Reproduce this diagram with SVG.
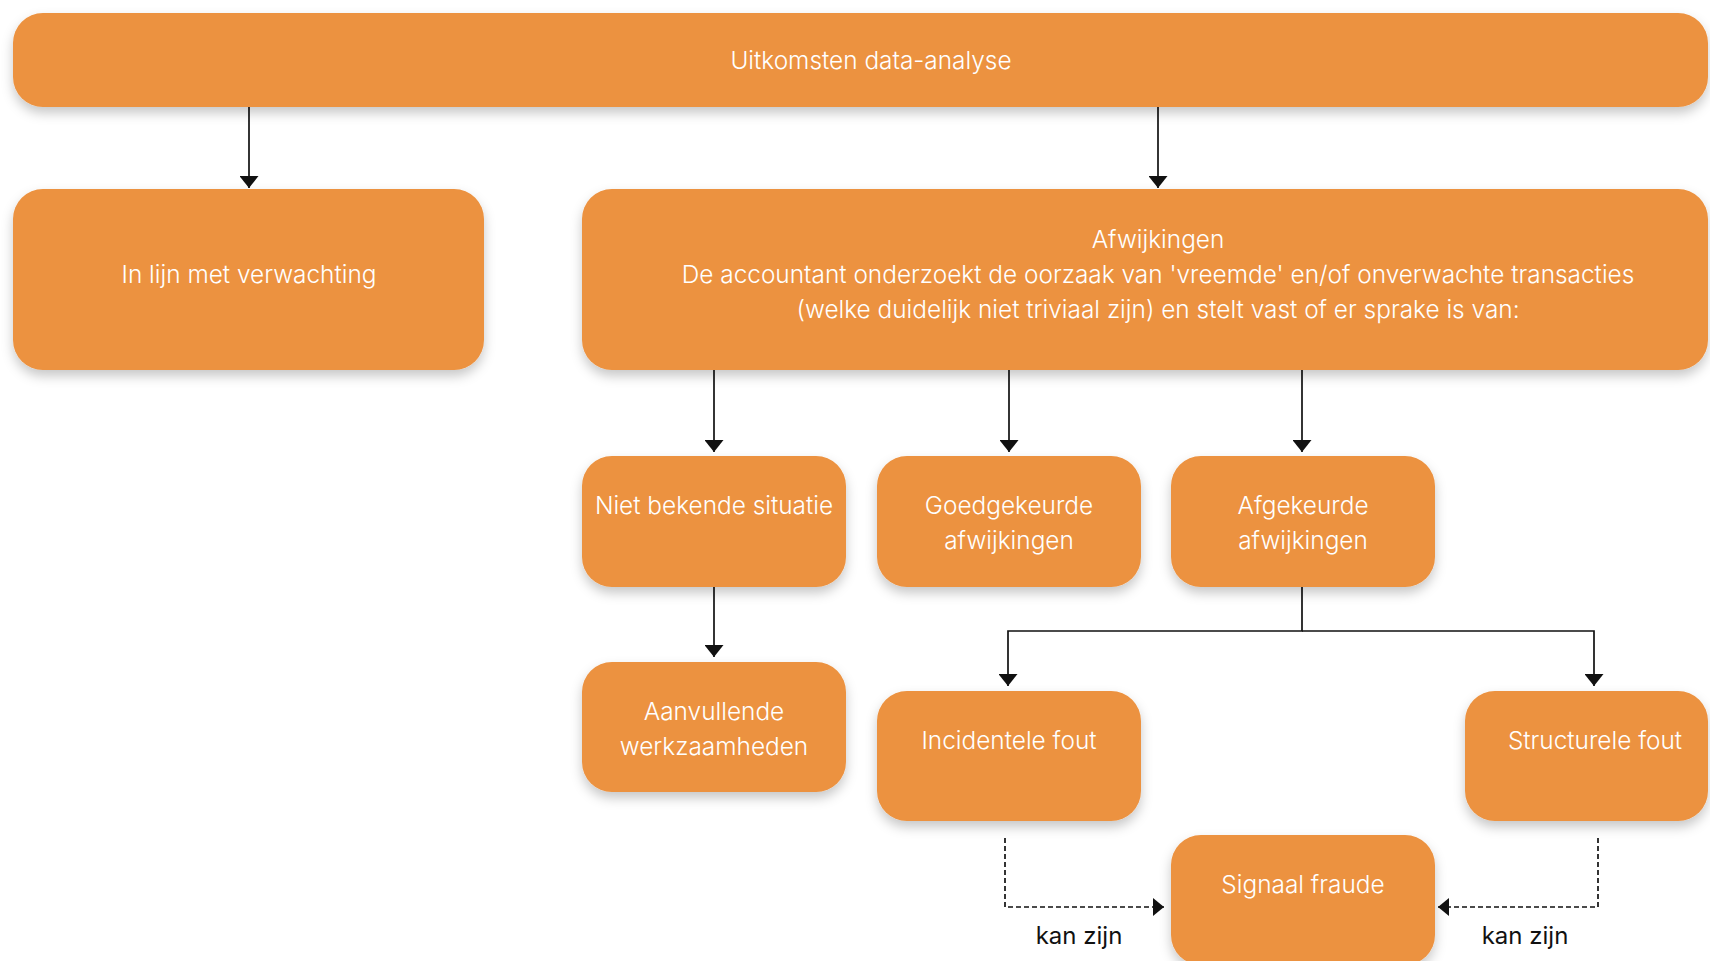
<svg xmlns="http://www.w3.org/2000/svg" width="1710" height="961" viewBox="0 0 1710 961">
  <style>
    .box { fill: #EC9240; filter: url(#shadow); }
    .lbl { font-family: Inter, "Noto Sans", "Liberation Sans", sans-serif; font-size: 24.4px; font-weight: 300; fill: #FFFFFF; text-anchor: middle; }
    .edge-lbl { font-family: Inter, "Noto Sans", "Liberation Sans", sans-serif; font-size: 24px; font-weight: 400; fill: #111111; text-anchor: middle; }
    .conn { fill: none; stroke: #111111; stroke-width: 1.7; }
    .dash { fill: none; stroke: #111111; stroke-width: 1.7; stroke-dasharray: 5 3; }
  </style>
  <defs>
    <filter id="shadow" x="-10%" y="-20%" width="120%" height="150%">
      <feDropShadow dx="0" dy="6" stdDeviation="6" flood-color="#000000" flood-opacity="0.22"/>
    </filter>
    <marker id="arr" viewBox="0 0 12 19" refX="12" refY="9.5" markerWidth="12" markerHeight="19" markerUnits="userSpaceOnUse" orient="auto">
      <path d="M0,0 L12,9.5 L0,19 Z" fill="#111111"/>
    </marker>
    <marker id="arrd" viewBox="0 0 11 18" refX="11" refY="9" markerWidth="11" markerHeight="18" markerUnits="userSpaceOnUse" orient="auto">
      <path d="M0,0 L11,9 L0,18 Z" fill="#111111"/>
    </marker>
  </defs>

  <g id="connectors">
    <path class="conn" d="M249,107 V188" marker-end="url(#arr)"/>
    <path class="conn" d="M1158,107 V188" marker-end="url(#arr)"/>
    <path class="conn" d="M714,370 V452" marker-end="url(#arr)"/>
    <path class="conn" d="M1009,370 V452" marker-end="url(#arr)"/>
    <path class="conn" d="M1302,370 V452" marker-end="url(#arr)"/>
    <path class="conn" d="M714,587 V657" marker-end="url(#arr)"/>
    <path class="conn" d="M1302,587 V631 H1008 V686" marker-end="url(#arr)"/>
    <path class="conn" d="M1302,631 H1594 V686" marker-end="url(#arr)"/>
    <path class="dash" d="M1005,838 V907 H1164" marker-end="url(#arrd)"/>
    <path class="dash" d="M1598,838 V907 H1438" marker-end="url(#arrd)"/>
    <text class="edge-lbl" x="1079" y="944">kan zijn</text>
    <text class="edge-lbl" x="1525" y="944">kan zijn</text>
  </g>

  <g id="node-uitkomsten">
    <rect class="box" x="13" y="13" width="1695" height="94" rx="30"/>
    <text class="lbl" x="871" y="69">Uitkomsten data-analyse</text>
  </g>
  <g id="node-inlijn">
    <rect class="box" x="13" y="189" width="471" height="181" rx="30"/>
    <text class="lbl" x="249" y="283">In lijn met verwachting</text>
  </g>
  <g id="node-afwijkingen">
    <rect class="box" x="582" y="189" width="1126" height="181" rx="30"/>
    <text class="lbl" x="1158" y="248">Afwijkingen</text>
    <text class="lbl" x="1158" y="283">De accountant onderzoekt de oorzaak van 'vreemde' en/of onverwachte transacties</text>
    <text class="lbl" x="1158" y="318">(welke duidelijk niet triviaal zijn) en stelt vast of er sprake is van:</text>
  </g>
  <g id="node-nietbekend">
    <rect class="box" x="582" y="456" width="264" height="131" rx="30"/>
    <text class="lbl" x="714" y="514">Niet bekende situatie</text>
  </g>
  <g id="node-goedgekeurd">
    <rect class="box" x="877" y="456" width="264" height="131" rx="30"/>
    <text class="lbl" x="1009" y="514">Goedgekeurde</text>
    <text class="lbl" x="1009" y="549">afwijkingen</text>
  </g>
  <g id="node-afgekeurd">
    <rect class="box" x="1171" y="456" width="264" height="131" rx="30"/>
    <text class="lbl" x="1303" y="514">Afgekeurde</text>
    <text class="lbl" x="1303" y="549">afwijkingen</text>
  </g>
  <g id="node-aanvullend">
    <rect class="box" x="582" y="662" width="264" height="130" rx="30"/>
    <text class="lbl" x="714" y="720">Aanvullende</text>
    <text class="lbl" x="714" y="755">werkzaamheden</text>
  </g>
  <g id="node-incidenteel">
    <rect class="box" x="877" y="691" width="264" height="130" rx="30"/>
    <text class="lbl" x="1009" y="749">Incidentele fout</text>
  </g>
  <g id="node-structureel">
    <rect class="box" x="1465" y="691" width="243" height="130" rx="30"/>
    <text class="lbl" x="1595" y="749">Structurele fout</text>
  </g>
  <g id="node-signaal">
    <rect class="box" x="1171" y="835" width="264" height="130" rx="30"/>
    <text class="lbl" x="1303" y="893">Signaal fraude</text>
  </g>
</svg>
